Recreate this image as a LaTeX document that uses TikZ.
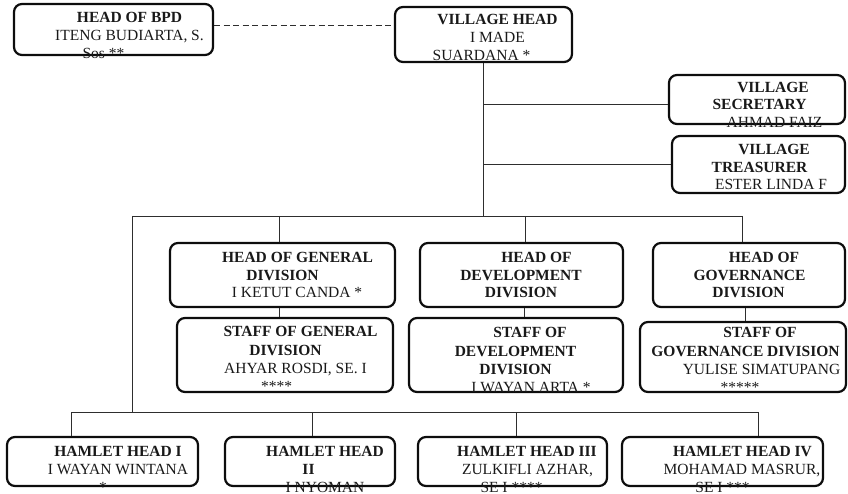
\documentclass[tikz,border=0pt]{standalone}
\usepackage{fontspec}
\setmainfont{Liberation Serif}
\newcommand\orgbox[5]{\node[box,minimum width=#4pt,minimum height=#5pt] (#1) at (#2,#3) {};}
\begin{document}
\begin{tikzpicture}[x=1pt,y=-1pt,
  box/.style={draw=black!95, line width=2.2pt, rounded corners=8pt, inner sep=0pt},
  link/.style={draw=black!82, line width=0.9pt},
  dlink/.style={link, dash pattern=on 6pt off 3.5pt},
  tt/.style={font=\fontsize{15.5}{18}\selectfont\bfseries, text=black!90, inner sep=0pt, anchor=base},
  tn/.style={font=\fontsize{15.5}{18}\selectfont, text=black!90, inner sep=0pt, anchor=base}]
\useasboundingbox (0,0) rectangle (848,494);
% boxes
\orgbox{bpd}{113.5}{29.5}{199}{51}
\orgbox{vh}{483.5}{34.5}{177}{55}
\orgbox{vs}{757}{99.5}{176}{49}
\orgbox{vt}{758.5}{164.5}{173}{57}
\orgbox{hg}{282.5}{275}{225}{64}
\orgbox{hd}{521.5}{275}{203}{64}
\orgbox{hgov}{749}{275}{192}{64}
\orgbox{sg}{285}{355}{216}{74}
\orgbox{sd}{516}{355}{214}{74}
\orgbox{sgov}{743}{357}{206}{70}
\orgbox{ha}{102.5}{461.5}{191}{49}
\orgbox{hb}{310}{461.5}{170}{49}
\orgbox{hc}{512.5}{461.5}{189}{49}
\orgbox{hdd}{722.5}{461.5}{201}{49}
% helper coordinates
\coordinate (dy) at (0,25);
\coordinate (vhb) at (483.5,216);
\coordinate (br1) at (483.5,104);
\coordinate (br2) at (483.5,164);
\coordinate (busL) at (132,216);
\coordinate (busR) at (742,216);
\coordinate (dg) at (279,216);
\coordinate (dd) at (525,216);
\coordinate (gx) at (279,0);
\coordinate (dx) at (524,0);
\coordinate (vx) at (745,0);
\coordinate (hbus) at (132,412);
\coordinate (hL) at (71,412);
\coordinate (hR) at (758,412);
\coordinate (h2) at (312,412);
\coordinate (h3) at (516,412);
% connectors
\draw[dlink] (bpd.east |- dy) -- (vh.west |- dy);
\draw[link] (vh.south) -- (vhb);
\draw[link] (br1) -- (vs.west |- br1);
\draw[link] (br2) -- (vt.west |- br2);
\draw[link] (busL) -- (busR);
\draw[link] (dg) -- (dg |- hg.north);
\draw[link] (dd) -- (dd |- hd.north);
\draw[link] (busR) -- (busR |- hgov.north);
\draw[link] (gx |- hg.south) -- (gx |- sg.north);
\draw[link] (dx |- hd.south) -- (dx |- sd.north);
\draw[link] (vx |- hgov.south) -- (vx |- sgov.north);
\draw[link] (busL) -- (hbus);
\draw[link] (hL) -- (hR);
\draw[link] (hL) -- (hL |- ha.north);
\draw[link] (h2) -- (h2 |- hb.north);
\draw[link] (h3) -- (h3 |- hc.north);
\draw[link] (hR) -- (hR |- hdd.north);
% texts
\node[tt] (t1) at (129.5,23) {HEAD OF BPD};
\node[tn] (t2) at (129.5,41) {ITENG BUDIARTA, S.};
\node[tn] (t3) at (103.5,59) {Sos **};
\node[tt] (t4) at (497.5,25) {VILLAGE HEAD};
\node[tn] (t5) at (497.5,43) {I MADE};
\node[tn] (t6) at (481.5,61) {SUARDANA *};
\node[tt] (t7) at (773,93) {VILLAGE};
\node[tt] (t8) at (759.5,110) {SECRETARY};
\node[tn] (t9) at (774.5,128) {AHMAD FAIZ};
\node[tt] (t10) at (774,155) {VILLAGE};
\node[tt] (t11) at (759.5,173) {TREASURER};
\node[tn] (t12) at (771,190) {ESTER LINDA F};
\node[tt] (t13) at (297.5,262) {HEAD OF GENERAL};
\node[tt] (t14) at (282.5,280) {DIVISION};
\node[tn] (t15) at (297,298) {I KETUT CANDA *};
\node[tt] (t16) at (536.5,262) {HEAD OF};
\node[tt] (t17) at (521,280) {DEVELOPMENT};
\node[tt] (t18) at (521,298) {DIVISION};
\node[tt] (t19) at (764,262) {HEAD OF};
\node[tt] (t20) at (749.5,280) {GOVERNANCE};
\node[tt] (t21) at (748.5,298) {DIVISION};
\node[tt] (t22) at (300.5,336) {STAFF OF GENERAL};
\node[tt] (t23) at (285.5,355) {DIVISION};
\node[tn] (t24) at (295.5,373) {AHYAR ROSDI, SE. I};
\node[tn] (t25) at (276.5,391) {****};
\node[tt] (t26) at (530,337) {STAFF OF};
\node[tt] (t27) at (515.5,356) {DEVELOPMENT};
\node[tt] (t28) at (515.5,374) {DIVISION};
\node[tn] (t29) at (531,392) {I WAYAN ARTA *};
\node[tt] (t30) at (760,337) {STAFF OF};
\node[tt] (t31) at (745.5,356) {GOVERNANCE DIVISION};
\node[tn] (t32) at (761.5,374) {YULISE SIMATUPANG};
\node[tn] (t33) at (740,392) {*****};
\node[tt] (t34) at (118,456) {HAMLET HEAD I};
\node[tn] (t35) at (118,474) {I WAYAN WINTANA};
\node[tn] (t36) at (103,492) {*};
\node[tt] (t37) at (325,456) {HAMLET HEAD};
\node[tt] (t38) at (308.5,474) {II};
\node[tn] (t39) at (325,492) {I NYOMAN};
\node[tt] (t40) at (527,456) {HAMLET HEAD III};
\node[tn] (t41) at (527.5,474) {ZULKIFLI AZHAR,};
\node[tn] (t42) at (511.5,492) {SE I ****};
\node[tt] (t43) at (742.5,456) {HAMLET HEAD IV};
\node[tn] (t44) at (742,474) {MOHAMAD MASRUR,};
\node[tn] (t45) at (722.5,492) {SE I ***};
\end{tikzpicture}
\end{document}
